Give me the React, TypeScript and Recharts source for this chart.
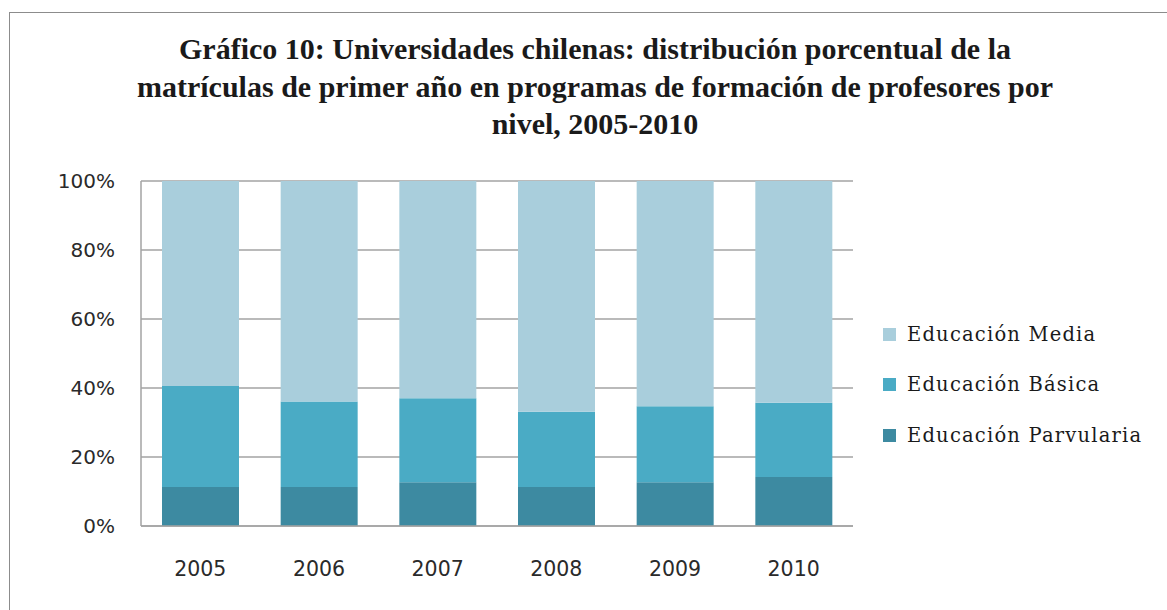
import { BarChart, Bar, XAxis, YAxis, CartesianGrid } from "recharts"

const years = ["2005", "2006", "2007", "2008", "2009", "2010"]
const parvularia = [11.3, 11.3, 12.7, 11.3, 12.7, 14.2]
const basica = [29.3, 24.8, 24.3, 21.8, 22.0, 21.5]
const media = [59.4, 63.9, 63.0, 66.9, 65.3, 64.3]
const yTicks = [0, 20, 40, 60, 80, 100]

const titleLines = [
  "Gráfico 10: Universidades chilenas: distribución porcentual de la",
  "matrículas de primer año en programas de formación de profesores por",
  "nivel, 2005-2010",
]

// legend order is top of stack first
const series = [
  { key: "media", name: "Educación Media", color: "#a9cedc" },
  { key: "basica", name: "Educación Básica", color: "#4aabc5" },
  { key: "parvularia", name: "Educación Parvularia", color: "#3d8aa1" },
]

const data = years.map((year, i) => ({
  year,
  parvularia: parvularia[i],
  basica: basica[i],
  media: media[i],
}))

const yTickStyle = { fontFamily: "DejaVu Sans", fontSize: 20, fill: "#2a2a2a" }
const xTickStyle = { fontFamily: "DejaVu Sans", fontSize: 20.5, fill: "#2a2a2a" }

export default function App() {
  return (
    <div style={{ position: "absolute", left: 0, top: 0, width: 1167, height: 610, background: "#fff", overflow: "hidden" }}>
      <div
        style={{
          position: "absolute",
          left: 9,
          top: 12,
          width: 1200,
          height: 640,
          borderLeft: "1.5px solid #8c8c8c",
          borderTop: "1.5px solid #8c8c8c",
        }}
      />
      <div
        style={{
          position: "absolute",
          left: 95,
          top: 30,
          width: 1000,
          textAlign: "center",
          fontFamily: "Liberation Serif",
          fontWeight: "bold",
          fontSize: 30,
          lineHeight: "37.5px",
          color: "#1a1a1a",
        }}
      >
        {titleLines.map((line) => (
          <div key={line}>{line}</div>
        ))}
      </div>

      <BarChart
        width={1167}
        height={610}
        data={data}
        margin={{ top: 181, right: 314, bottom: 24, left: 0 }}
        style={{ position: "absolute", left: 0, top: 0 }}
      >
        <CartesianGrid vertical={false} stroke="#a3a3a3" strokeWidth={1.5} />
        <XAxis
          dataKey="year"
          height={60}
          tickLine={false}
          tickSize={0}
          tickMargin={35}
          axisLine={{ stroke: "#a3a3a3", strokeWidth: 1.5 }}
          tick={xTickStyle}
        />
        <YAxis
          width={141}
          domain={[0, 100]}
          ticks={yTicks}
          tickFormatter={(v) => `${v}%`}
          tickLine={false}
          tickSize={0}
          tickMargin={26}
          axisLine={{ stroke: "#a3a3a3", strokeWidth: 1.5 }}
          tick={yTickStyle}
        />
        <Bar dataKey="parvularia" stackId="a" fill="#3d8aa1" barSize={77} isAnimationActive={false} />
        <Bar dataKey="basica" stackId="a" fill="#4aabc5" barSize={77} isAnimationActive={false} />
        <Bar dataKey="media" stackId="a" fill="#a9cedc" barSize={77} isAnimationActive={false} />
      </BarChart>

      <div style={{ position: "absolute", left: 883, top: 309 }}>
        {series.map((s) => (
          <div key={s.key} style={{ display: "flex", alignItems: "center", height: 50.5 }}>
            <div style={{ width: 13, height: 13, background: s.color, marginRight: 11 }} />
            <span style={{ fontFamily: "DejaVu Serif", fontSize: 19.5, letterSpacing: 1.2, color: "#1a1a1a" }}>
              {s.name}
            </span>
          </div>
        ))}
      </div>
    </div>
  )
}
